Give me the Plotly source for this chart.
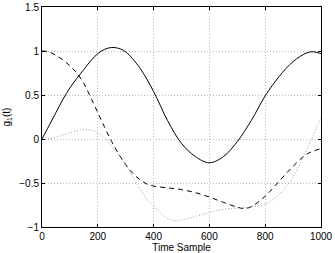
import plotly.graph_objects as go

t_solid = [0, 25, 50, 75, 100, 125, 150, 175, 200, 225, 250, 275, 300, 350, 400, 450, 500, 550, 600,
           650, 700, 750, 800, 850, 900, 950, 975, 1000]
g_solid = [0.0, 0.15, 0.30, 0.45, 0.58, 0.69, 0.79, 0.89, 0.97, 1.02, 1.04, 1.03, 0.99, 0.81, 0.54, 0.21,
           -0.05, -0.20, -0.27, -0.20, -0.03, 0.21, 0.49, 0.71, 0.88, 0.98, 0.99, 0.97]

t_dash = [0, 25, 50, 75, 100, 125, 150, 175, 200, 225, 250, 275, 300, 325, 350, 375, 400, 450, 500,
          550, 600, 650, 700, 725, 750, 800, 850, 900, 950, 1000]
g_dash = [1.0, 0.99, 0.95, 0.90, 0.83, 0.75, 0.63, 0.47, 0.30, 0.13, -0.03, -0.17, -0.29, -0.39, -0.46,
          -0.51, -0.535, -0.555, -0.575, -0.61, -0.66, -0.72, -0.775, -0.79, -0.77, -0.65, -0.48, -0.31,
          -0.17, -0.11]

t_dot = [0, 25, 50, 75, 100, 125, 150, 175, 200, 225, 250, 275, 300, 325, 350, 375, 400, 425, 450,
         475, 500, 550, 600, 650, 700, 750, 800, 850, 900, 950, 1000]
g_dot = [0.0, 0.005, 0.02, 0.045, 0.07, 0.095, 0.105, 0.10, 0.07, 0.01, -0.08, -0.18, -0.30, -0.43,
         -0.56, -0.68, -0.76, -0.84, -0.90, -0.925, -0.92, -0.88, -0.835, -0.80, -0.785, -0.77, -0.74,
         -0.63, -0.43, -0.11, 0.24]

x_ticks = [0, 200, 400, 600, 800, 1000]
y_ticks = [-1, -0.5, 0, 0.5, 1, 1.5]
y_tick_text = ["\u22121", "\u22120.5", "0", "0.5", "1", "1.5"]

fig = go.Figure()
fig.add_trace(go.Scatter(x=t_solid, y=g_solid, mode="lines",
                         line=dict(color="black", width=1, shape="spline")))
fig.add_trace(go.Scatter(x=t_dash, y=g_dash, mode="lines",
                         line=dict(color="black", width=1, dash="5px,4px", shape="spline")))
fig.add_trace(go.Scatter(x=t_dot, y=g_dot, mode="lines",
                         line=dict(color="#999999", width=1, dash="1px,2px", shape="spline")))

font = dict(family="Liberation Sans, Arial, sans-serif", size=10, color="black")
axis_common = dict(showline=True, linecolor="black", linewidth=1, mirror="ticks",
                   ticks="inside", ticklen=3, tickcolor="black", showgrid=True,
                   gridcolor="#bbbbbb", griddash="1px,2px", gridwidth=1, zeroline=False,
                   tickfont=font, automargin=False)

fig.update_layout(
    width=335, height=253,
    margin=dict(l=42, r=14, t=7, b=26),
    paper_bgcolor="white", plot_bgcolor="white",
    showlegend=False,
    font=font,
    xaxis=dict(range=[0, 1000], tickvals=x_ticks,
               title=dict(text="Time Sample", font=font, standoff=0), **axis_common),
    yaxis=dict(range=[-1, 1.5], tickvals=y_ticks, ticktext=y_tick_text,
               title=dict(text="g<sub>1</sub>(t)", font=font, standoff=6), **axis_common),
)

fig.write_html("out.html", config={"displayModeBar": False},
               post_script="document.body.style.margin='0px';document.body.style.overflow='hidden';")
